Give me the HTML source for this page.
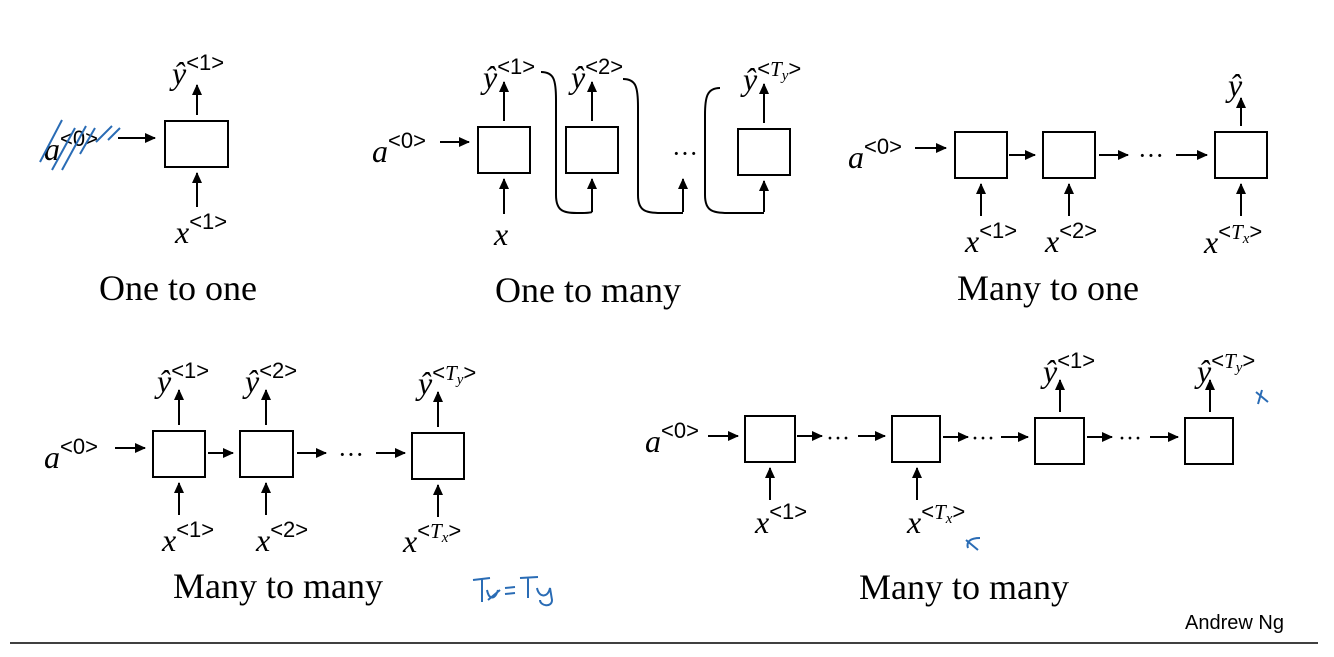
<!DOCTYPE html>
<html><head><style>
html,body{margin:0;padding:0;background:#fff;}
svg{display:block}
.m{font-family:"Liberation Serif",serif;font-style:italic;font-size:32px;fill:#000}
.s{font-family:"Liberation Sans",sans-serif;font-style:normal;font-size:22px;fill:#000}
.ti{font-family:"Liberation Serif",serif;font-style:italic;font-size:21px}
.t{font-family:"Liberation Serif",serif;font-size:36px;fill:#000}
rect{fill:#fff;stroke:#000;stroke-width:2}
.l{stroke:#000;stroke-width:2;fill:none}
.b{stroke:#2a6cb5;stroke-width:2;fill:none}
</style></head><body>
<svg width="1334" height="657" viewBox="0 0 1334 657" xmlns="http://www.w3.org/2000/svg">
<defs><marker id="a" markerWidth="12" markerHeight="12" refX="10" refY="5" orient="auto" markerUnits="userSpaceOnUse"><path d="M0,0 L11,5 L0,10 z" fill="#000"/></marker></defs>

<!-- One to one -->
<rect x="165" y="121" width="63" height="46"/>
<line class="l" x1="197" y1="115" x2="197" y2="85" marker-end="url(#a)"/>
<line class="l" x1="197" y1="207" x2="197" y2="173" marker-end="url(#a)"/>
<line class="l" x1="118" y1="138" x2="155" y2="138" marker-end="url(#a)"/>
<text class="m" x="44" y="160">a<tspan class="s" dy="-14">&lt;0&gt;</tspan></text>
<text class="m" x="172" y="84">ŷ<tspan class="s" dy="-14">&lt;1&gt;</tspan></text>
<text class="m" x="175" y="243">x<tspan class="s" dy="-14">&lt;1&gt;</tspan></text>
<path class="b" d="M40,162 L62,120 M52,170 L75,128 M62,170 L86,126 M80,154 L95,128 M96,142 L112,126 M108,140 L120,128"/>
<text class="t" x="178" y="300" text-anchor="middle">One to one</text>

<!-- One to many -->
<rect x="478" y="127" width="52" height="46"/>
<rect x="566" y="127" width="52" height="46"/>
<rect x="738" y="129" width="52" height="46"/>
<line class="l" x1="504" y1="121" x2="504" y2="82" marker-end="url(#a)"/>
<line class="l" x1="592" y1="121" x2="592" y2="82" marker-end="url(#a)"/>
<line class="l" x1="764" y1="123" x2="764" y2="84" marker-end="url(#a)"/>
<line class="l" x1="504" y1="214" x2="504" y2="179" marker-end="url(#a)"/>
<line class="l" x1="592" y1="212" x2="592" y2="179" marker-end="url(#a)"/>
<line class="l" x1="683" y1="212" x2="683" y2="179" marker-end="url(#a)"/>
<line class="l" x1="764" y1="212" x2="764" y2="181" marker-end="url(#a)"/>
<line class="l" x1="440" y1="142" x2="469" y2="142" marker-end="url(#a)"/>
<path class="l" stroke-width="1.3" d="M541,72 C554,72 556,80 556,100 L556,195 C556,212 564,213 580,213 C590,213 592,212 592,212"/>
<path class="l" stroke-width="1.3" d="M623,79 C636,79 638,87 638,107 L638,195 C638,212 646,213 665,213 L683,213"/>
<path class="l" stroke-width="1.3" d="M720,88 C707,88 705,97 705,115 L705,195 C705,212 713,213 732,213 L764,213"/>
<text class="t" x="672" y="162" style="font-size:26px">···</text>
<text class="m" x="372" y="162">a<tspan class="s" dy="-14">&lt;0&gt;</tspan></text>
<text class="m" x="483" y="88">ŷ<tspan class="s" dy="-14">&lt;1&gt;</tspan></text>
<text class="m" x="571" y="88">ŷ<tspan class="s" dy="-14">&lt;2&gt;</tspan></text>
<text class="m" x="743" y="90">ŷ<tspan class="s" dy="-14">&lt;<tspan class="ti">T<tspan font-size="15" dy="4">y</tspan></tspan><tspan dy="-4">&gt;</tspan></tspan></text>
<text class="m" x="494" y="245">x</text>
<text class="t" x="588" y="302" text-anchor="middle">One to many</text>

<!-- Many to one -->
<rect x="955" y="132" width="52" height="46"/>
<rect x="1043" y="132" width="52" height="46"/>
<rect x="1215" y="132" width="52" height="46"/>
<line class="l" x1="915" y1="148" x2="946" y2="148" marker-end="url(#a)"/>
<line class="l" x1="1009" y1="155" x2="1035" y2="155" marker-end="url(#a)"/>
<line class="l" x1="1099" y1="155" x2="1128" y2="155" marker-end="url(#a)"/>
<line class="l" x1="1176" y1="155" x2="1207" y2="155" marker-end="url(#a)"/>
<text class="t" x="1138" y="164" style="font-size:26px">···</text>
<line class="l" x1="1241" y1="126" x2="1241" y2="98" marker-end="url(#a)"/>
<line class="l" x1="981" y1="216" x2="981" y2="184" marker-end="url(#a)"/>
<line class="l" x1="1069" y1="216" x2="1069" y2="184" marker-end="url(#a)"/>
<line class="l" x1="1241" y1="216" x2="1241" y2="184" marker-end="url(#a)"/>
<text class="m" x="848" y="168">a<tspan class="s" dy="-14">&lt;0&gt;</tspan></text>
<text class="m" x="1228" y="96">ŷ</text>
<text class="m" x="965" y="252">x<tspan class="s" dy="-14">&lt;1&gt;</tspan></text>
<text class="m" x="1045" y="252">x<tspan class="s" dy="-14">&lt;2&gt;</tspan></text>
<text class="m" x="1204" y="253">x<tspan class="s" dy="-14">&lt;<tspan class="ti">T<tspan font-size="15" dy="4">x</tspan></tspan><tspan dy="-4">&gt;</tspan></tspan></text>
<text class="t" x="1048" y="300" text-anchor="middle">Many to one</text>

<!-- Many to many 1 -->
<rect x="153" y="431" width="52" height="46"/>
<rect x="240" y="431" width="53" height="46"/>
<rect x="412" y="433" width="52" height="46"/>
<line class="l" x1="115" y1="448" x2="145" y2="448" marker-end="url(#a)"/>
<line class="l" x1="208" y1="453" x2="233" y2="453" marker-end="url(#a)"/>
<line class="l" x1="297" y1="453" x2="326" y2="453" marker-end="url(#a)"/>
<line class="l" x1="376" y1="453" x2="405" y2="453" marker-end="url(#a)"/>
<text class="t" x="338" y="463" style="font-size:26px">···</text>
<line class="l" x1="179" y1="425" x2="179" y2="390" marker-end="url(#a)"/>
<line class="l" x1="266" y1="425" x2="266" y2="390" marker-end="url(#a)"/>
<line class="l" x1="438" y1="427" x2="438" y2="392" marker-end="url(#a)"/>
<line class="l" x1="179" y1="515" x2="179" y2="483" marker-end="url(#a)"/>
<line class="l" x1="266" y1="515" x2="266" y2="483" marker-end="url(#a)"/>
<line class="l" x1="438" y1="517" x2="438" y2="485" marker-end="url(#a)"/>
<text class="m" x="44" y="468">a<tspan class="s" dy="-14">&lt;0&gt;</tspan></text>
<text class="m" x="157" y="392">ŷ<tspan class="s" dy="-14">&lt;1&gt;</tspan></text>
<text class="m" x="245" y="392">ŷ<tspan class="s" dy="-14">&lt;2&gt;</tspan></text>
<text class="m" x="418" y="394">ŷ<tspan class="s" dy="-14">&lt;<tspan class="ti">T<tspan font-size="15" dy="4">y</tspan></tspan><tspan dy="-4">&gt;</tspan></tspan></text>
<text class="m" x="162" y="551">x<tspan class="s" dy="-14">&lt;1&gt;</tspan></text>
<text class="m" x="256" y="551">x<tspan class="s" dy="-14">&lt;2&gt;</tspan></text>
<text class="m" x="403" y="552">x<tspan class="s" dy="-14">&lt;<tspan class="ti">T<tspan font-size="15" dy="4">x</tspan></tspan><tspan dy="-4">&gt;</tspan></tspan></text>
<text class="t" x="278" y="598" text-anchor="middle">Many to many</text>
<path class="b" d="M473,580 L490,578 M482,579 L482,602 M487,590 C489,600 495,600 498,590 M488,600 L500,590 M505,588 L515,587 M505,594 L515,593 M520,578 L538,577 M528,578 L528,598 M537,588 C539,598 548,598 550,588 L552,600 C552,608 540,606 540,600"/>

<!-- Many to many 2 -->
<rect x="745" y="416" width="50" height="46"/>
<rect x="892" y="416" width="48" height="46"/>
<rect x="1035" y="418" width="49" height="46"/>
<rect x="1185" y="418" width="48" height="46"/>
<line class="l" x1="708" y1="436" x2="738" y2="436" marker-end="url(#a)"/>
<line class="l" x1="797" y1="436" x2="822" y2="436" marker-end="url(#a)"/>
<line class="l" x1="858" y1="436" x2="885" y2="436" marker-end="url(#a)"/>
<line class="l" x1="943" y1="437" x2="968" y2="437" marker-end="url(#a)"/>
<line class="l" x1="1001" y1="437" x2="1028" y2="437" marker-end="url(#a)"/>
<line class="l" x1="1087" y1="437" x2="1112" y2="437" marker-end="url(#a)"/>
<line class="l" x1="1150" y1="437" x2="1178" y2="437" marker-end="url(#a)"/>
<text class="t" x="826" y="446" style="font-size:24px">···</text>
<text class="t" x="971" y="446" style="font-size:24px">···</text>
<text class="t" x="1118" y="446" style="font-size:24px">···</text>
<line class="l" x1="770" y1="500" x2="770" y2="468" marker-end="url(#a)"/>
<line class="l" x1="917" y1="500" x2="917" y2="468" marker-end="url(#a)"/>
<line class="l" x1="1060" y1="412" x2="1060" y2="380" marker-end="url(#a)"/>
<line class="l" x1="1210" y1="412" x2="1210" y2="380" marker-end="url(#a)"/>
<text class="m" x="645" y="452">a<tspan class="s" dy="-14">&lt;0&gt;</tspan></text>
<text class="m" x="1043" y="382">ŷ<tspan class="s" dy="-14">&lt;1&gt;</tspan></text>
<text class="m" x="1197" y="382">ŷ<tspan class="s" dy="-14">&lt;<tspan class="ti">T<tspan font-size="15" dy="4">y</tspan></tspan><tspan dy="-4">&gt;</tspan></tspan></text>
<text class="m" x="755" y="533">x<tspan class="s" dy="-14">&lt;1&gt;</tspan></text>
<text class="m" x="907" y="533">x<tspan class="s" dy="-14">&lt;<tspan class="ti">T<tspan font-size="15" dy="4">x</tspan></tspan><tspan dy="-4">&gt;</tspan></tspan></text>
<path class="b" d="M980,538 C970,538 966,542 968,548 M966,540 L978,550"/>
<path class="b" d="M1262,390 L1258,404 M1256,392 L1268,402"/>
<text class="t" x="964" y="599" text-anchor="middle">Many to many</text>

<text class="s" x="1185" y="629" style="font-size:20px">Andrew Ng</text>
<line x1="10" y1="643" x2="1318" y2="643" stroke="#000" stroke-width="1.5"/>
</svg>
</body></html>
